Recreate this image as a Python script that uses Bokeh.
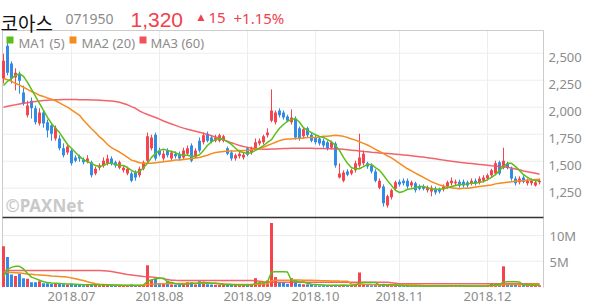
from bokeh.plotting import figure
from bokeh.models import ColumnDataSource, Label, BoxAnnotation, Range1d
from bokeh.embed import file_html
from bokeh.resources import INLINE

# ---------------- data (daily, 2018-06-05 .. 2018-12-20, trading days) ----------------
opens = [2265,2570,2405,2275,2310,2135,1925,2060,1990,1850,
1950,1860,1830,1710,1710,1620,1580,1600,1535,1545,
1515,1495,1490,1385,1440,1460,1480,1525,1490,1440,
1415,1385,1385,1395,1370,1430,1505,1620,1745,1600,
1525,1600,1525,1570,1570,1535,1570,1645,1535,1690,
1675,1755,1720,1690,1690,1690,1620,1580,1525,1545,
1535,1620,1580,1620,1665,1675,1740,1875,1860,1970,
1950,1915,1860,1895,1805,1730,1805,1745,1720,1710,
1690,1675,1625,1665,1350,1320,1405,1385,1415,1460,
1480,1480,1460,1405,1255,1265,1090,1165,1245,1310,
1320,1320,1275,1295,1265,1265,1230,1220,1245,1240,
1240,1265,1295,1295,1310,1310,1305,1295,1320,1305,
1320,1340,1370,1385,1490,1440,1480,1430,1340,1305,
1350,1295,1295,1275,1305]

highs = [2495,2600,2425,2360,2330,2200,2060,2090,2015,1990,
1970,1885,1850,1830,1740,1665,1655,1620,1555,1560,
1535,1555,1505,1450,1480,1535,1560,1545,1505,1505,
1460,1450,1405,1415,1450,1505,1765,1745,1765,1625,
1600,1620,1600,1590,1590,1625,1645,1665,1620,1720,
1765,1775,1740,1745,1755,1745,1635,1600,1570,1590,
1580,1635,1635,1710,1710,1745,1805,2165,1970,1990,
1970,1930,1980,1915,1820,1810,1820,1765,1740,1730,
1710,1690,1690,1680,1480,1415,1425,1430,1505,1755,
1600,1495,1480,1425,1340,1285,1190,1245,1320,1330,
1340,1340,1320,1310,1285,1285,1275,1275,1265,1255,
1285,1320,1350,1330,1330,1330,1320,1340,1340,1360,
1370,1385,1430,1505,1505,1625,1495,1450,1360,1360,
1370,1340,1340,1330,1340]

lows = [2220,2295,2220,2155,2125,2015,1905,1895,1840,1830,
1810,1720,1690,1690,1600,1535,1560,1460,1490,1495,
1470,1480,1350,1370,1415,1440,1460,1460,1440,1425,
1395,1370,1305,1320,1350,1415,1490,1600,1505,1545,
1505,1535,1505,1525,1505,1515,1555,1490,1525,1580,
1655,1675,1665,1675,1675,1675,1555,1505,1505,1525,
1515,1545,1560,1600,1645,1655,1720,1860,1840,1905,
1885,1860,1840,1700,1690,1710,1720,1675,1655,1645,
1625,1600,1610,1440,1340,1305,1360,1370,1395,1440,
1460,1430,1385,1305,1240,1080,1070,1145,1230,1265,
1275,1245,1255,1210,1230,1230,1210,1175,1190,1200,
1220,1245,1275,1275,1255,1255,1255,1275,1275,1285,
1305,1320,1350,1370,1370,1425,1425,1320,1275,1285,
1295,1275,1275,1265,1285]

closes = [2430,2320,2265,2320,2245,2035,2015,1990,1860,1950,
1850,1785,1755,1810,1620,1555,1635,1480,1505,1525,
1490,1525,1370,1430,1460,1505,1525,1480,1460,1490,
1440,1430,1320,1350,1430,1490,1730,1720,1525,1560,
1570,1555,1580,1545,1525,1600,1620,1505,1600,1600,
1740,1690,1680,1720,1740,1730,1570,1525,1555,1570,
1560,1560,1620,1675,1690,1730,1765,1970,1950,1925,
1905,1875,1905,1720,1710,1795,1740,1690,1675,1665,
1645,1620,1675,1460,1385,1395,1375,1415,1480,1535,
1570,1450,1405,1320,1320,1110,1175,1230,1305,1285,
1295,1265,1305,1230,1245,1245,1255,1255,1210,1220,
1265,1305,1320,1310,1275,1275,1275,1320,1295,1340,
1350,1370,1415,1480,1385,1505,1440,1340,1295,1340,
1310,1320,1320,1305,1320]

ma5 = [2200,2240,2265,2295,2310,2285,2230,2165,2100,2035,
1970,1905,1850,1805,1765,1710,1655,1620,1580,1545,
1515,1495,1480,1460,1450,1460,1480,1480,1470,1460,
1460,1440,1415,1395,1405,1440,1480,1535,1570,1600,
1610,1600,1590,1580,1560,1555,1555,1545,1545,1560,
1600,1645,1680,1700,1710,1700,1680,1655,1620,1590,
1580,1570,1580,1600,1620,1645,1675,1700,1755,1805,
1840,1870,1885,1895,1860,1810,1785,1765,1745,1730,
1720,1700,1680,1645,1600,1535,1480,1440,1430,1430,
1450,1470,1470,1440,1415,1370,1320,1275,1230,1210,
1220,1240,1245,1255,1265,1265,1255,1245,1240,1240,
1245,1255,1265,1275,1285,1285,1290,1295,1295,1305,
1310,1330,1350,1375,1415,1450,1480,1480,1450,1415,
1375,1350,1330,1320,1320]

ma20 = [2265,2255,2240,2220,2205,2185,2165,2145,2130,2110,
2100,2085,2075,2060,2040,2020,2000,1975,1950,1925,
1880,1840,1800,1765,1725,1695,1655,1625,1605,1585,
1560,1535,1510,1500,1485,1480,1480,1480,1485,1490,
1495,1500,1505,1510,1510,1515,1520,1525,1530,1535,
1545,1555,1570,1580,1585,1590,1595,1595,1595,1600,
1600,1600,1605,1610,1620,1630,1645,1660,1675,1690,
1700,1705,1705,1710,1710,1715,1720,1720,1720,1725,
1730,1730,1735,1740,1735,1730,1720,1705,1695,1680,
1665,1650,1630,1610,1590,1570,1550,1530,1505,1480,
1455,1430,1410,1390,1370,1350,1330,1310,1295,1280,
1270,1260,1255,1250,1245,1250,1250,1255,1260,1265,
1270,1275,1280,1290,1295,1300,1305,1310,1315,1320,
1320,1325,1325,1330,1330]

ma60 = [2000,2008,2015,2022,2030,2036,2042,2048,2053,2058,
2062,2065,2067,2069,2070,2071,2071,2071,2071,2070,
2069,2068,2067,2066,2064,2062,2060,2058,2053,2046,
2035,2022,2005,1990,1965,1948,1932,1918,1905,1890,
1872,1858,1845,1832,1818,1806,1795,1786,1777,1768,
1758,1748,1735,1724,1712,1700,1684,1670,1658,1645,
1636,1628,1622,1617,1612,1610,1610,1612,1614,1616,
1617,1618,1619,1619,1620,1620,1620,1619,1618,1618,
1617,1616,1615,1614,1612,1610,1606,1602,1598,1594,
1590,1587,1583,1580,1577,1574,1571,1568,1565,1562,
1558,1554,1550,1546,1542,1538,1533,1528,1522,1516,
1510,1505,1500,1495,1490,1486,1482,1478,1474,1470,
1466,1462,1458,1455,1452,1448,1443,1436,1428,1420,
1410,1402,1395,1388,1380]

# volume in millions of shares
volume = [7.9,5.8,2.4,2.1,2.5,1.7,1.6,0.9,0.9,1.1,
0.7,0.7,0.55,0.7,0.6,0.5,0.45,0.6,0.4,0.35,
0.3,0.35,0.5,0.4,0.3,0.4,0.45,0.3,0.3,0.35,
0.3,0.3,0.45,0.35,0.3,0.4,4.2,1.4,1.6,0.7,
0.7,1.2,0.45,0.4,0.4,0.5,0.9,0.9,0.45,1.1,
1.0,0.5,0.45,0.4,0.35,0.4,0.45,0.4,0.35,0.3,
0.3,0.45,0.4,1.7,0.9,0.9,1.25,12.45,1.9,0.9,
0.9,0.6,1.7,1.3,0.6,0.5,0.5,0.5,0.3,0.25,
0.3,0.25,0.35,0.4,0.3,0.35,0.25,0.3,0.4,2.8,
0.6,0.35,0.3,0.35,0.3,0.6,0.5,0.3,0.2,0.2,
0.15,0.2,0.15,0.2,0.15,0.15,0.2,0.2,0.15,0.15,
0.2,0.25,0.2,0.15,0.2,0.15,0.15,0.2,0.15,0.2,
0.2,0.25,0.6,0.6,0.5,4.0,0.4,0.35,0.4,0.3,
0.35,0.3,0.3,0.35,0.3]

vol_ma5 = [2.0,3.4,3.8,4.0,4.0,3.5,2.6,1.9,1.6,1.3,
1.0,0.85,0.75,0.7,0.65,0.6,0.55,0.55,0.5,0.45,
0.4,0.4,0.4,0.4,0.4,0.4,0.4,0.37,0.35,0.35,
0.33,0.32,0.34,0.34,0.34,0.36,1.1,1.35,1.6,1.7,
1.7,0.95,0.85,0.6,0.5,0.5,0.55,0.65,0.65,0.75,
0.85,0.8,0.7,0.7,0.55,0.45,0.4,0.4,0.4,0.4,
0.35,0.35,0.35,0.65,0.75,0.8,1.0,2.9,2.95,2.95,
2.95,2.9,1.2,1.1,1.0,0.95,0.7,0.5,0.45,0.4,
0.35,0.3,0.3,0.3,0.3,0.35,0.3,0.3,0.3,0.8,
0.85,0.85,0.85,0.85,0.35,0.4,0.4,0.35,0.3,0.25,
0.2,0.2,0.18,0.18,0.18,0.17,0.17,0.18,0.18,0.17,
0.17,0.19,0.2,0.2,0.2,0.18,0.17,0.17,0.17,0.17,
0.18,0.2,0.3,0.38,0.45,0.95,1.0,1.0,0.98,0.95,
0.35,0.35,0.33,0.33,0.32]

vol_ma20 = [2.9,2.85,2.8,2.75,2.7,2.6,2.5,2.45,2.35,2.3,
2.25,2.2,2.1,2.05,2.0,1.95,1.9,1.75,1.6,1.4,
1.25,1.0,0.8,0.6,0.5,0.45,0.4,0.35,0.3,0.28,
0.27,0.27,0.27,0.27,0.27,0.27,0.45,0.5,0.55,0.58,
0.6,0.65,0.65,0.65,0.66,0.67,0.68,0.7,0.7,0.72,
0.72,0.72,0.72,0.7,0.68,0.6,0.55,0.5,0.45,0.45,
0.45,0.45,0.45,0.5,0.52,0.55,0.58,1.2,1.28,1.3,
1.3,1.3,1.32,1.35,1.33,1.3,1.28,1.27,1.25,1.22,
1.2,1.18,1.15,1.15,1.13,1.12,1.1,0.55,0.5,0.55,
0.5,0.48,0.45,0.43,0.42,0.42,0.42,0.41,0.4,0.38,
0.38,0.37,0.36,0.35,0.3,0.25,0.22,0.2,0.2,0.2,
0.2,0.2,0.2,0.2,0.2,0.2,0.2,0.19,0.19,0.19,
0.19,0.2,0.22,0.25,0.27,0.45,0.46,0.47,0.47,0.48,
0.48,0.48,0.49,0.49,0.5]

vol_ma60 = [3.2,3.2,3.2,3.2,3.2,3.2,3.2,3.2,3.2,3.2,
3.2,3.2,3.2,3.2,3.2,3.2,3.2,3.2,3.2,3.2,
3.2,3.2,3.2,3.2,3.2,3.15,3.1,3.0,2.85,2.7,
2.55,2.4,2.3,2.2,2.1,2.0,1.95,1.9,1.85,1.75,
1.6,1.45,1.3,1.27,1.25,1.25,1.25,1.25,1.25,1.25,
1.25,1.25,1.25,1.25,1.25,1.25,1.25,1.25,1.25,1.25,
1.25,1.25,1.25,1.2,1.1,1.0,0.95,0.9,0.9,0.9,
0.9,0.9,0.9,0.9,0.9,0.9,0.9,0.9,0.9,0.9,
0.9,0.9,0.9,0.9,0.9,0.9,0.9,0.9,0.9,0.9,
0.9,0.9,0.9,0.9,0.9,0.9,0.9,0.8,0.7,0.6,
0.6,0.6,0.6,0.6,0.6,0.6,0.6,0.6,0.6,0.6,
0.6,0.6,0.6,0.6,0.6,0.6,0.6,0.6,0.6,0.6,
0.6,0.6,0.6,0.6,0.6,0.6,0.6,0.6,0.6,0.6,
0.6,0.6,0.6,0.6,0.6]

month_ticks = [17, 39, 61, 78, 99, 121]
month_labels = ["2018.07", "2018.08", "2018.09", "2018.10", "2018.11", "2018.12"]
price_ticks = [1250, 1500, 1750, 2000, 2250, 2500]
price_labels = ["1,250", "1,500", "1,750", "2,000", "2,250", "2,500"]
vol_ticks = [5, 10]
vol_labels = ["5M", "10M"]

# ---------------- styling / layout constants ----------------
RED = "#f5434e"
BLUE = "#2f8be6"
C_MA1 = "#5cbf18"
C_MA2 = "#f68b1f"
C_MA3 = "#f2525c"
GRID = "#ededed"
BORDER = "#cccccc"
TXT = "#8c8c8c"
HEAD_RED = "#f0414c"
FONT = "Noto Sans"

W, H = 594, 304
X0, X1 = -0.25, 135.0          # data x at panel left / right edge
P_LO, P_HI = 978.6, 2710.3     # price panel bottom / top
V_LO, V_HI = -0.12, 13.5       # volume panel bottom / top (millions)
PX = 0.25                      # x units per pixel
PY = (P_HI - P_LO) / 187.0     # price per pixel
VY = (V_HI - V_LO) / 70.0      # volume per pixel

n = len(closes)
idx = list(range(n))
cols = [RED if c >= o else BLUE for o, c in zip(opens, closes)]
src = ColumnDataSource(dict(
    x=idx, o=opens, h=highs, l=lows, c=closes,
    top=[max(o, c) for o, c in zip(opens, closes)],
    bot=[min(o, c) for o, c in zip(opens, closes)],
    col=cols, ma5=ma5, ma20=ma20, ma60=ma60,
    vol=volume, vma5=vol_ma5, vma20=vol_ma20, vma60=vol_ma60,
))

p = figure(width=W, height=H, title=None,
           x_range=Range1d(X0 - 2 * PX, X1 + 51 * PX),
           y_range=Range1d(P_LO - 87 * PY, P_HI + 30 * PY),
           x_axis_location=None, y_axis_location=None, toolbar_location=None,
           output_backend="svg", min_border=0)
p.extra_y_ranges = {"vol": Range1d(V_LO - 17 * VY, V_HI + 217 * VY)}
p.outline_line_color = None
p.xgrid.visible = False
p.ygrid.visible = False

# grid lines (price panel)
p.segment(x0=[X0] * len(price_ticks), x1=[X1] * len(price_ticks), y0=price_ticks, y1=price_ticks,
          line_color=GRID, line_width=1)
p.segment(x0=month_ticks, x1=month_ticks, y0=[P_LO] * len(month_ticks), y1=[P_HI] * len(month_ticks),
          line_color=GRID, line_width=1)
# grid lines (volume panel)
p.segment(x0=[X0] * len(vol_ticks), x1=[X1] * len(vol_ticks), y0=vol_ticks, y1=vol_ticks,
          line_color=GRID, line_width=1, y_range_name="vol")
p.segment(x0=month_ticks, x1=month_ticks, y0=[V_LO] * len(month_ticks), y1=[V_HI] * len(month_ticks),
          line_color=GRID, line_width=1, y_range_name="vol")
# panel borders
p.segment(x0=[X0, X1, X0], x1=[X0, X1, X1], y0=[P_LO, P_LO, P_HI], y1=[P_HI, P_HI, P_HI],
          line_color=BORDER, line_width=1)
p.segment(x0=[X0, X1], x1=[X0, X1], y0=[V_LO, V_LO], y1=[V_HI, V_HI],
          line_color=BORDER, line_width=1, y_range_name="vol")

# candles
p.segment(x0="x", y0="l", x1="x", y1="h", source=src, line_color="col", line_width=1)
p.vbar(x="x", width=0.74, top="top", bottom="bot", source=src, fill_color="col", line_color=None)
p.line("x", "ma60", source=src, line_color=C_MA3, line_width=1.5, line_alpha=0.9)
p.line("x", "ma20", source=src, line_color=C_MA2, line_width=1.5)
p.line("x", "ma5", source=src, line_color=C_MA1, line_width=1.5)

# volume
p.vbar(x="x", width=0.74, top="vol", bottom=0, source=src, fill_color="col", line_color=None,
       y_range_name="vol")
p.line("x", "vma60", source=src, line_color=C_MA3, line_width=1.5, line_alpha=0.9, y_range_name="vol")
p.line("x", "vma20", source=src, line_color=C_MA2, line_width=1.5, y_range_name="vol")
p.line("x", "vma5", source=src, line_color=C_MA1, line_width=1.5, y_range_name="vol")

# separator between panels
p.segment(x0=[X0], x1=[X1], y0=[P_LO], y1=[P_LO], line_color="#333333", line_width=1.5)

# tick labels
for t, lab in zip(price_ticks, price_labels):
    p.add_layout(Label(x=548, x_units="screen", y=t, y_units="data", text=lab,
                       text_font=FONT, text_font_size="13px", text_color=TXT,
                       text_baseline="middle", text_align="left", y_offset=-4))
for t, lab in zip(vol_ticks, vol_labels):
    p.add_layout(Label(x=549, x_units="screen", y=t, y_units="data", y_range_name="vol",
                       text=lab, text_font=FONT, text_font_size="13px", text_color=TXT,
                       text_baseline="middle", text_align="left", y_offset=-1))
for t, lab in zip(month_ticks, month_labels):
    p.add_layout(Label(x=t, x_units="data", y=H - 296, y_units="screen", text=lab,
                       text_font=FONT, text_font_size="13px", text_color=TXT,
                       text_baseline="middle", text_align="center"))

# legend
for left, color, lab, tx in [(6, C_MA1, "MA1 (5)", 18), (69, C_MA2, "MA2 (20)", 81), (139, C_MA3, "MA3 (60)", 150)]:
    p.add_layout(BoxAnnotation(left=left, right=left + 7, bottom=H - 43, top=H - 36,
                               left_units="screen", right_units="screen",
                               bottom_units="screen", top_units="screen",
                               fill_color=color, fill_alpha=1, line_color=None))
    p.add_layout(Label(x=tx, y=H - 42, x_units="screen", y_units="screen", text=lab,
                       text_font=FONT, text_font_size="13px", text_color=TXT,
                       text_baseline="middle"))

# watermark
p.add_layout(Label(x=5, y=H - 205, x_units="screen", y_units="screen", text="©PAXNet",
                   text_font=FONT, text_font_style="bold", text_font_size="17px",
                   text_color="#c9c9c9", text_baseline="middle"))

# header (alphabetic baselines, kept fully inside the canvas)
p.add_layout(Label(x=0, y=H - 22.4, x_units="screen", y_units="screen", text="코아스",
                   text_font="Noto Sans CJK KR", text_font_size="19px", text_color="#111111",
                   text_baseline="alphabetic"))
p.add_layout(Label(x=65, y=H - 18, x_units="screen", y_units="screen", text="071950",
                   text_font=FONT, text_font_size="14px", text_color="#8c8c8c",
                   text_baseline="alphabetic"))
p.add_layout(Label(x=130, y=H - 19.6, x_units="screen", y_units="screen", text="1,320",
                   text_font="Liberation Sans", text_font_size="21px", text_color=HEAD_RED,
                   text_baseline="alphabetic"))
p.add_layout(Label(x=197, y=H - 16, x_units="screen", y_units="screen", text="▲",
                   text_font="DejaVu Sans", text_font_size="9px", text_color=HEAD_RED,
                   text_baseline="alphabetic"))
p.add_layout(Label(x=208, y=H - 17.5, x_units="screen", y_units="screen", text="15",
                   text_font=FONT, text_font_size="15px", text_color=HEAD_RED,
                   text_baseline="alphabetic"))
p.add_layout(Label(x=233, y=H - 17.5, x_units="screen", y_units="screen", text="+1.15%",
                   text_font=FONT, text_font_size="15px", text_color=HEAD_RED,
                   text_baseline="alphabetic"))

open("out.html", "w").write(file_html(p, INLINE))
